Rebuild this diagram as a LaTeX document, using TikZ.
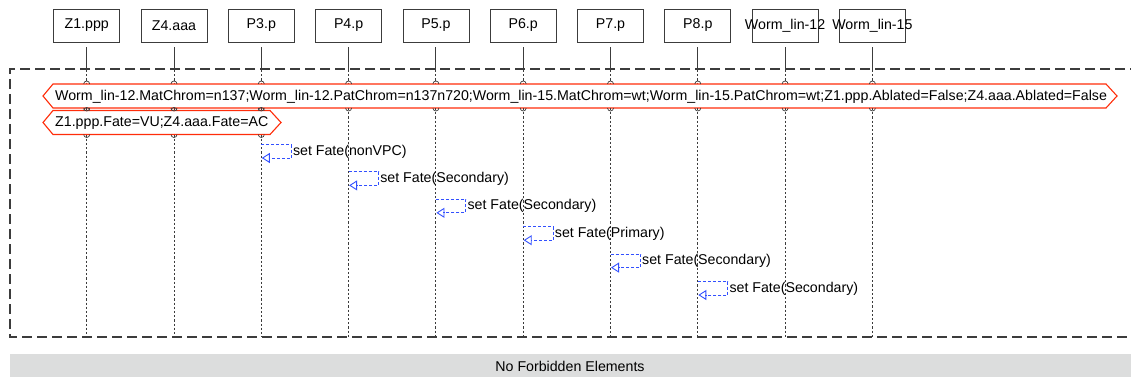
\documentclass[tikz,border=0pt]{standalone}
\usepackage{fontspec}
\setmainfont{Liberation Sans}
\usetikzlibrary{arrows.meta}
\definecolor{hexred}{RGB}{255,45,10}
\definecolor{msgblue}{RGB}{50,80,255}
\definecolor{bandgray}{RGB}{220,221,221}
\definecolor{linegray}{RGB}{60,60,60}
\begin{document}
\begin{tikzpicture}[x=1pt,y=-1pt,
  every node/.style={font=\fontsize{14.2}{16}\selectfont, inner sep=0pt},
  lifebox/.style={draw=linegray, line width=0.8pt, minimum width=66pt, minimum height=33pt},
  lifesolid/.style={draw=linegray, line width=0.9pt},
  lifedot/.style={draw=linegray, line width=0.9pt, dash pattern=on 2.2pt off 2pt},
  frame/.style={draw=linegray, line width=1.2pt, dash pattern=on 10pt off 5pt},
  hexline/.style={draw=hexred, fill=white, line width=1.1pt},
  knob/.style={draw=linegray, line width=0.7pt},
  msg/.style={draw=msgblue, line width=0.9pt, dash pattern=on 3pt off 2pt},
  msgtip/.style={-{Triangle[open, length=8pt, width=10pt]}, draw=msgblue, line width=0.9pt}
]
\useasboundingbox (0,0) rectangle (1131,377);

% frame
\draw[frame] (1140,69) -- (10,69) -- (10,337) -- (1140,337);

% lifelines and boxes
\foreach \i/\t in {1/Z1.ppp,2/Z4.aaa,3/P3.p,4/P4.p,5/P5.p,6/P6.p,7/P7.p,8/P8.p,9/Worm\_lin-12,10/Worm\_lin-15} {
  \pgfmathsetmacro\xx{86.7+87.3*(\i-1)}
  \node[lifebox] (b\i) at (\xx,25.5) {};
  \node (t\i) at (\xx,25.5) {\t};
  \coordinate (f\i) at (\xx,70);
  \coordinate (e\i) at (\xx,337);
  \draw[lifesolid] ([yshift=-5pt]b\i.south) -- (f\i);
  \draw[lifedot] (f\i) -- (\xx,84);
}

% hexagon 1
\draw[hexline] (53,84) -- (1106,84) -- (1117,96) -- (1106,108) -- (53,108) -- (43,96) -- cycle;
\node[anchor=west] (h1) at (55,96.5) {Worm\_lin-12.MatChrom=n137;Worm\_lin-12.PatChrom=n137n720;Worm\_lin-15.MatChrom=wt;Worm\_lin-15.PatChrom=wt;Z1.ppp.Ablated=False;Z4.aaa.Ablated=False};

% hexagon 2
\draw[hexline] (53,110.5) -- (270,110.5) -- (281,122.5) -- (270,134.5) -- (53,134.5) -- (43,122.5) -- cycle;
\node[anchor=west] (h2) at (55,123) {Z1.ppp.Fate=VU;Z4.aaa.Fate=AC};

% knobs and lower lifelines
\foreach \i in {1,...,10} {
  \pgfmathsetmacro\xx{86.7+87.3*(\i-1)}
  \draw[knob] (\xx-3,84) arc[start angle=180, end angle=360, radius=3];
  \draw[knob] (\xx-3,108) arc[start angle=180, end angle=0, radius=3];
}
\foreach \i in {1,2,3} {
  \pgfmathsetmacro\xx{86.7+87.3*(\i-1)}
  \draw[lifedot] (\xx,108) -- (\xx,110.5);
  \draw[knob] (\xx-3,110.5) arc[start angle=180, end angle=360, radius=3];
  \draw[knob] (\xx-3,134.5) arc[start angle=180, end angle=0, radius=3];
  \draw[lifedot] (\xx,134.5) -- (e\i);
}
\foreach \i in {4,...,10} {
  \pgfmathsetmacro\xx{86.7+87.3*(\i-1)}
  \draw[lifedot] (\xx,108) -- (e\i);
}

% self messages
\foreach \i/\t in {3/nonVPC,4/Secondary,5/Secondary,6/Primary,7/Secondary,8/Secondary} {
  \pgfmathsetmacro\xx{86.7+87.3*(\i-1)}
  \pgfmathsetmacro\yy{144.5+27.4*(\i-3)}
  \coordinate (ms\i) at (\xx,\yy);
  \coordinate (mc\i) at (\xx+30,\yy);
  \coordinate (md\i) at (\xx+30,\yy+13.5);
  \coordinate (me\i) at (\xx+0.5,\yy+13.5);
  \draw[msg] (ms\i) -- (mc\i) -- (md\i) -- ([xshift=7pt]me\i);
  \draw[msgtip] ([xshift=7.5pt]me\i) -- (me\i);
  \node[anchor=west] (m\i) at (\xx+31.5,\yy+7) {set Fate(\t)};
}

% bottom band
\fill[bandgray] (10,354) rectangle (1140,380);
\node (nf) at (570,366.5) {No Forbidden Elements};
\end{tikzpicture}
\end{document}
